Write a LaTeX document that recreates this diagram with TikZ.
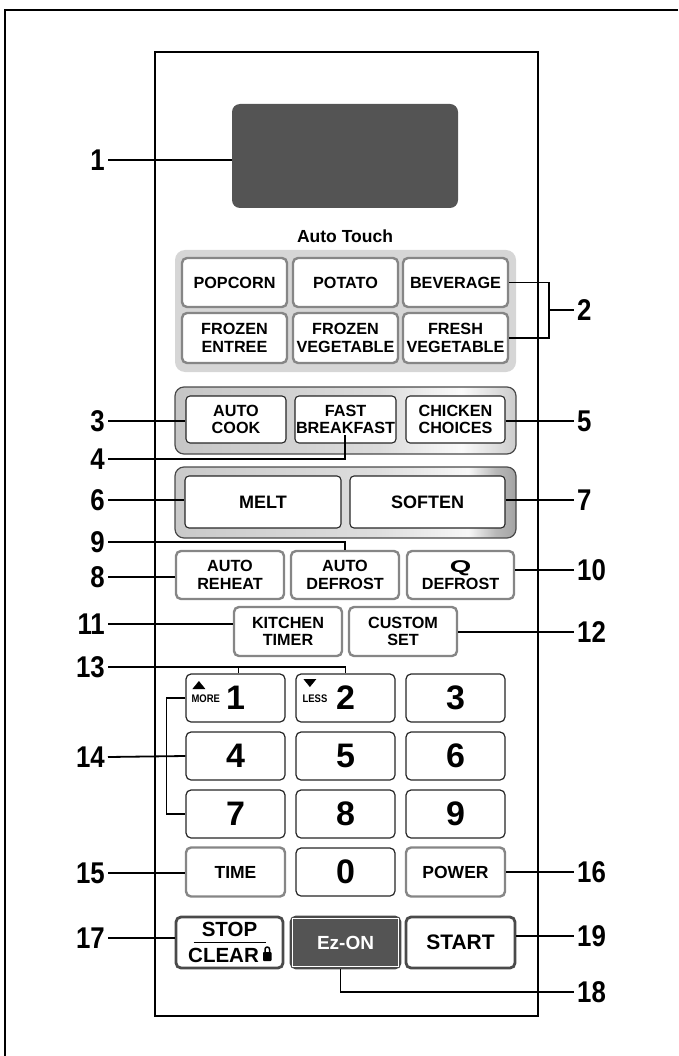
\documentclass[tikz,border=0pt]{standalone}
\usepackage{fontspec}
\usepackage{graphicx}
\setmainfont{Liberation Sans}
\newfontfamily\calloutfont{Liberation Sans}[FakeStretch=0.86]
\usetikzlibrary{positioning}

\definecolor{lcdgray}{HTML}{545454}
\definecolor{rimgray}{HTML}{868686}
\definecolor{trayfill}{HTML}{D6D6D6}
\definecolor{edgedark}{HTML}{4A4A4A}

% metal rims of the two middle trays
\pgfdeclarehorizontalshading{traylight}{100bp}{color(0bp)=(gray!45); color(25bp)=(gray!45); color(55bp)=(gray!28); color(67bp)=(gray!4); color(75bp)=(gray!40); color(100bp)=(gray!40)}
\pgfdeclarehorizontalshading{traydark}{100bp}{color(0bp)=(gray!42); color(25bp)=(gray!42); color(55bp)=(gray!26); color(68bp)=(gray!6); color(72bp)=(gray!55); color(75bp)=(gray!72); color(100bp)=(gray!72)}

\newcommand\keyfont{\fontsize{16.2}{17.5}\selectfont\bfseries}
\newcommand\bigkeyfont{\fontsize{18}{18}\selectfont\bfseries}
\newcommand\midkeyfont{\fontsize{17.5}{18}\selectfont\bfseries}
\newcommand\digitfont{\fontsize{34}{34}\selectfont\bfseries}
\newcommand\stopfont{\fontsize{20.5}{21}\selectfont\bfseries}
\newcommand\tinyfont{\fontsize{11}{11}\selectfont\calloutfont\bfseries}
\newcommand\calloutsize{\fontsize{30}{30}\selectfont\calloutfont\bfseries}

\begin{document}
\begin{tikzpicture}[x=1pt, y=-1pt,
  callout/.style={font=\calloutsize, inner sep=3pt},
  lead/.style={line width=1.8pt},
  keysize/.style 2 args={minimum width=#1, minimum height=#2},
  softkey/.style={draw=rimgray, line width=2.4pt, fill=white, rounded corners=5pt, align=center, font=\keyfont, inner sep=0pt},
  trimkey/.style={draw=black!85, line width=1.1pt, fill=white, rounded corners=4pt, align=center, font=\keyfont, inner sep=0pt},
  numkey/.style={draw=black!85, line width=1.2pt, fill=white, rounded corners=5pt, minimum width=99, minimum height=48, font=\digitfont, inner sep=0pt},
  hardkey/.style={draw=edgedark, line width=2.8pt, fill=white, rounded corners=5pt, inner sep=0pt}]
\useasboundingbox (0,0) rectangle (678,1056);

% frame and panel
\draw[line width=1.2pt] (678,10) -- (5,10) -- (5,1056);
\draw[line width=1.5pt] (155,52) rectangle (538,1016);

% display
\node[fill=lcdgray, rounded corners=8pt, minimum width=226, minimum height=104, inner sep=0pt] (disp) at (345,156) {};
\node[font=\fontsize{17.5}{18}\selectfont\bfseries] (autotouch) at (345,236) {Auto Touch};

% Auto Touch keys
\fill[trayfill, rounded corners=10pt] (175,250) rectangle (516,372);
\node[softkey, keysize={105}{49}] (pop) at (234.5,282.5) {POPCORN};
\node[softkey, keysize={105}{49}] (pot) at (345.5,282.5) {POTATO};
\node[softkey, keysize={105}{49}] (bev) at (455.5,282.5) {BEVERAGE};
\node[softkey, keysize={105}{50}] (fze) at (234.5,338) {FROZEN\\ENTREE};
\node[softkey, keysize={105}{50}] (fzv) at (345.5,338) {FROZEN\\VEGETABLE};
\node[softkey, keysize={105}{50}] (frv) at (455.5,338) {FRESH\\VEGETABLE};

% Auto cook tray
\shadedraw[shading=traylight, draw=edgedark, line width=1.2pt, rounded corners=9pt] (175,387) rectangle (516,454);
\node[trimkey, keysize={100}{47}] (acook) at (236,419.5) {AUTO\\COOK};
\node[trimkey, keysize={101}{47}] (fbf) at (345.5,419.5) {FAST\\BREAKFAST};
\node[trimkey, keysize={99}{47}] (chk) at (455.5,419.5) {CHICKEN\\CHOICES};

% Melt / soften tray
\shadedraw[shading=traydark, draw=edgedark, line width=1.2pt, rounded corners=9pt] (175,467) rectangle (516,538);
\node[trimkey, keysize={156}{52}, font=\bigkeyfont] (melt) at (263,502) {MELT};
\node[trimkey, keysize={155}{52}, font=\bigkeyfont] (soft) at (427.5,502) {SOFTEN};

% reheat / defrost
\node[softkey, keysize={108}{48}] (arh) at (230,575) {AUTO\\REHEAT};
\node[softkey, keysize={108}{48}] (adf) at (345,575) {AUTO\\DEFROST};
\node[softkey, keysize={107}{48}] (qdf) at (460.5,575) {\scalebox{1.7}[1.05]{Q}\\DEFROST};
\node[softkey, keysize={108}{49}] (ktm) at (288,631.5) {KITCHEN\\TIMER};
\node[softkey, keysize={108}{49}] (cst) at (403,631.5) {CUSTOM\\SET};

% number pad
\foreach \d [count=\n from 0] in {1,...,9} {
    \pgfmathtruncatemacro\kcol{mod(\n,3)}
    \pgfmathtruncatemacro\krow{\n/3}
    \node[numkey] (k\d) at ({235.5+110*\kcol},{698+58*\krow}) {\d};
}
\node[numkey] (k0) at (345.5,872) {0};
\node[softkey, keysize={99}{49}, font=\midkeyfont] (time) at (235.5,872) {TIME};
\node[softkey, keysize={99}{49}, font=\midkeyfont] (pwr) at (455.5,872) {POWER};

% more / less marks
\node[font=\tinyfont, anchor=base west, inner sep=0pt] (more) at ([xshift=6pt,yshift=-4pt]k1.west) {MORE};
\fill ([xshift=1pt,yshift=13pt]more.base west) -- ([xshift=7.5pt,yshift=21pt]more.base west) -- ([xshift=14pt,yshift=13pt]more.base west) -- cycle;
\node[font=\tinyfont, anchor=base west, inner sep=0pt] (less) at ([xshift=7pt,yshift=-4pt]k2.west) {LESS};
\fill ([xshift=1pt,yshift=23pt]less.base west) -- ([xshift=7.5pt,yshift=15pt]less.base west) -- ([xshift=14pt,yshift=23pt]less.base west) -- cycle;

% bottom row
\node[hardkey, keysize={107}{51}] (sc) at (229.5,942.5) {};
\node[font=\stopfont, inner sep=0pt] (stoptxt) at ([yshift=13pt]sc.center) {STOP};
\draw[line width=1.4pt] ([xshift=-36pt]sc.center) -- ([xshift=36pt]sc.center);
\node[font=\stopfont, inner sep=0pt] (cleartxt) at ([xshift=-6pt,yshift=-12.5pt]sc.center) {CLEAR};
\fill[rounded corners=0.8pt] (263,952) rectangle (271.5,961);
\draw[line width=1.5pt, rounded corners=2.2pt] (265,952.5) -- (265,947) -- (269.5,947) -- (269.5,952.5);
\node[hardkey, fill=lcdgray, keysize={109}{51}, font=\fontsize{19}{19}\selectfont\bfseries, text=white] (ez) at (345.5,942.5) {Ez-ON};
\draw[white, line width=1.1pt] ([shift={(2.6pt,-2.6pt)}]ez.north west) rectangle ([shift={(-2.6pt,2.6pt)}]ez.south east);
\node[hardkey, keysize={109}{51}, font=\fontsize{21}{21}\selectfont\bfseries] (st) at (460.5,942.5) {START};

% callouts left
\node[callout, anchor=east] (l1) at (108,160) {1};
\node[callout, anchor=east] (l3) at (108,421) {3};
\node[callout, anchor=east] (l4) at (108,459) {4};
\node[callout, anchor=east] (l6) at (108,500) {6};
\node[callout, anchor=east] (l9) at (108,542) {9};
\node[callout, anchor=east] (l8) at (108,577) {8};
\node[callout, anchor=east] (l11) at (108,624) {11};
\node[callout, anchor=east] (l13) at (108,667) {13};
\node[callout, anchor=east] (l14) at (108,757) {14};
\node[callout, anchor=east] (l15) at (108,873) {15};
\node[callout, anchor=east] (l17) at (108,938) {17};

% callouts right
\node[callout, anchor=west] (l2) at (574,310) {2};
\node[callout, anchor=west] (l5) at (574,421) {5};
\node[callout, anchor=west] (l7) at (574,500) {7};
\node[callout, anchor=west] (l10) at (574,570) {10};
\node[callout, anchor=west] (l12) at (574,632) {12};
\node[callout, anchor=west] (l16) at (574,872) {16};
\node[callout, anchor=west] (l19) at (574,936) {19};
\node[callout, anchor=west] (l18) at (574,992) {18};

% leader lines
\draw[lead] (l1.east) -- (l1.east -| disp.west);
\coordinate (b2) at (549,310);
\draw[lead] (bev.east) -| (b2) |- (frv.east);
\draw[lead] (b2) -- (l2.west);
\draw[lead] (l3.east) -- (l3.east -| acook.west);
\coordinate (c4) at (345,435);
\draw[lead] (l4.east) -| (c4);
\draw[lead] (chk.east |- l5.west) -- (l5.west);
\draw[lead] (l6.east) -- (l6.east -| melt.west);
\draw[lead] (soft.east |- l7.west) -- (l7.west);
\draw[lead] (l9.east) -| (adf.north);
\draw[lead] (l8.east) -- (l8.east -| arh.west);
\draw[lead] (qdf.east |- l10.west) -- (l10.west);
\draw[lead] (l11.east) -- (l11.east -| ktm.west);
\draw[lead] (cst.east |- l12.west) -- (l12.west);
\draw[lead] (l13.east) -| (k2.north);
\draw[lead] ([xshift=3pt]k1.north |- l13.east) -- ([xshift=3pt]k1.north);
\draw[lead] (l14.east) -- (k4.west);
\draw[lead] (k1.west) -- ++(-19,0) |- (k7.west);
\draw[lead] (l15.east) -- (l15.east -| time.west);
\draw[lead] (pwr.east |- l16.west) -- (l16.west);
\draw[lead] (l17.east) -- (l17.east -| sc.west);
\draw[lead] ([xshift=-5pt]ez.south) |- (l18.west);
\draw[lead] (st.east |- l19.west) -- (l19.west);

\end{tikzpicture}
\end{document}
